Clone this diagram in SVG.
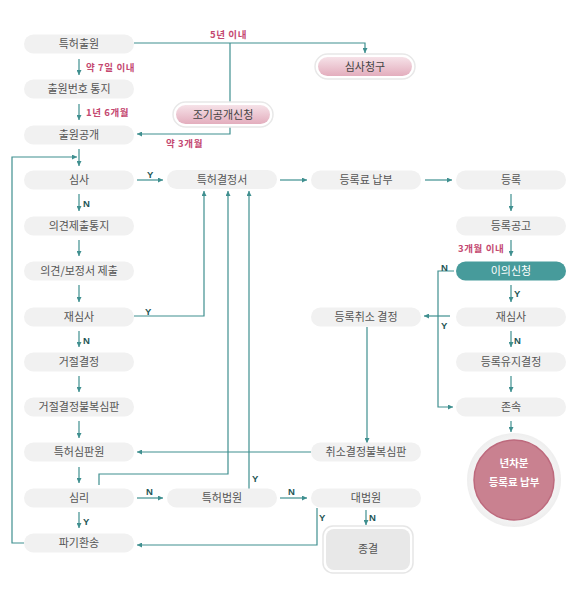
<svg xmlns="http://www.w3.org/2000/svg" width="583" height="600" viewBox="0 0 583 600">
<defs>
<style>
.n rect{fill:#f1f1f1}
.n text{font-family:"Noto Sans CJK KR","Noto Sans",sans-serif;font-size:11px;fill:#555;text-anchor:middle}
.c path{fill:none;stroke:#3f8f8f;stroke-width:1.2}
.a{marker-end:url(#ah)}
.lp{font-family:"Noto Sans CJK KR","Noto Sans",sans-serif;font-size:9.5px;font-weight:bold;fill:#c44870;letter-spacing:0.6px}
.yn{font-family:"Liberation Sans",sans-serif;font-size:9.5px;font-weight:bold;fill:#1f5656}
</style>
<marker id="ah" markerWidth="5" markerHeight="5" refX="5" refY="2.5" orient="auto" markerUnits="userSpaceOnUse">
<path d="M0,0 L5,2.5 L0,5 z" fill="#3f8f8f"/>
</marker>
<linearGradient id="pk" x1="0" y1="0" x2="0" y2="1">
<stop offset="0" stop-color="#f6e2e8"/>
<stop offset="1" stop-color="#e3adbd"/>
</linearGradient>
<radialGradient id="ring" cx="0.5" cy="0.5" r="0.5">
<stop offset="0.8" stop-color="#f6f6f6"/>
<stop offset="1" stop-color="#eeeeee"/>
</radialGradient>
</defs>
<rect width="583" height="600" fill="#fff"/>

<g class="c">
<path class="a" d="M134,43 H365 V53"/>
<path d="M230,43 V102"/>
<path class="a" d="M230,127 V134 H137"/>
<path class="a" d="M79,59 V75"/>
<path class="a" d="M79,104 V120"/>
<path class="a" d="M79,149 V166"/>
<path class="a" d="M24,543 H12 V157 H77"/>
<path class="a" d="M137,180 H163"/>
<path class="a" d="M79,194 V211"/>
<path class="a" d="M79,240 V256"/>
<path class="a" d="M79,285 V302"/>
<path class="a" d="M79,331 V347"/>
<path class="a" d="M79,376 V392"/>
<path class="a" d="M79,421 V438"/>
<path class="a" d="M79,467 V483"/>
<path class="a" d="M79,512 V528"/>
<path class="a" d="M134,316 H204 V191"/>
<path class="a" d="M99,485 V474 H228 V191"/>
<path class="a" d="M249,489 V191"/>
<path class="a" d="M137,498 H163"/>
<path class="a" d="M280,498 H307"/>
<path class="a" d="M280,180 H307"/>
<path class="a" d="M425,180 H452"/>
<path class="a" d="M511,194 V211"/>
<path class="a" d="M511,240 V256"/>
<path class="a" d="M511,285 V302"/>
<path class="a" d="M511,331 V347"/>
<path class="a" d="M511,376 V392"/>
<path class="a" d="M511,421 V432"/>
<path class="a" d="M454,271 H438 V407 H453"/>
<path class="a" d="M450,316 H424"/>
<path class="a" d="M367,327 V443"/>
<path class="a" d="M311,452 H137"/>
<path class="a" d="M366,510 V525"/>
<path class="a" d="M317,508 V545 H137"/>
</g>

<g id="labels">
<text class="lp" x="210" y="38">5년 이내</text>
<text class="lp" x="86" y="71">약 7일 이내</text>
<text class="lp" x="86" y="116">1년 6개월</text>
<text class="lp" x="166" y="147">약 3개월</text>
<text class="lp" x="458" y="252">3개월 이내</text>
<text class="yn" x="147" y="178">Y</text>
<text class="yn" x="83" y="207">N</text>
<text class="yn" x="145" y="315">Y</text>
<text class="yn" x="83" y="344">N</text>
<text class="yn" x="83" y="525">Y</text>
<text class="yn" x="146" y="495">N</text>
<text class="yn" x="252" y="482">Y</text>
<text class="yn" x="288" y="495">N</text>
<text class="yn" x="319" y="521">Y</text>
<text class="yn" x="369" y="521">N</text>
<text class="yn" x="441" y="271">N</text>
<text class="yn" x="441" y="329">Y</text>
<text class="yn" x="514" y="297">Y</text>
<text class="yn" x="514" y="344">N</text>
</g>

<g id="n1" class="n"><rect x="24" y="34.5" width="110" height="19" rx="9.5"/><text x="79" y="48">특허출원</text></g>
<g id="n2" class="n"><rect x="24" y="79.5" width="110" height="19" rx="9.5"/><text x="79" y="93">출원번호 통지</text></g>
<g id="n3" class="n"><rect x="24" y="125.5" width="110" height="19" rx="9.5"/><text x="79" y="139">출원공개</text></g>
<g id="n4" class="n"><rect x="24" y="170.5" width="110" height="19" rx="9.5"/><text x="79" y="184">심사</text></g>
<g id="n5" class="n"><rect x="24" y="216.5" width="110" height="19" rx="9.5"/><text x="79" y="230">의견제출통지</text></g>
<g id="n6" class="n"><rect x="24" y="261.5" width="110" height="19" rx="9.5"/><text x="79" y="275">의견/보정서 제출</text></g>
<g id="n7" class="n"><rect x="24" y="307.5" width="110" height="19" rx="9.5"/><text x="79" y="321">재심사</text></g>
<g id="n8" class="n"><rect x="24" y="352.5" width="110" height="19" rx="9.5"/><text x="79" y="366">거절결정</text></g>
<g id="n9" class="n"><rect x="24" y="397.5" width="110" height="19" rx="9.5"/><text x="79" y="411">거절결정불복심판</text></g>
<g id="n10" class="n"><rect x="24" y="442.5" width="110" height="19" rx="9.5"/><text x="79" y="456">특허심판원</text></g>
<g id="n11" class="n"><rect x="24" y="488.5" width="110" height="19" rx="9.5"/><text x="79" y="502">심리</text></g>
<g id="n12" class="n"><rect x="24" y="533.5" width="110" height="19" rx="9.5"/><text x="79" y="547">파기환송</text></g>

<g id="n13" class="n"><rect x="167" y="170" width="110" height="19" rx="9.5"/><text x="222" y="183.5">특허결정서</text></g>
<g id="n14" class="n"><rect x="167" y="488.5" width="110" height="19" rx="9.5"/><text x="222" y="502">특허법원</text></g>

<g id="n15" class="n"><rect x="311" y="170.5" width="110" height="19" rx="9.5"/><text x="366" y="184">등록료 납부</text></g>
<g id="n16" class="n"><rect x="311" y="307.5" width="110" height="19" rx="9.5"/><text x="366" y="321">등록취소 결정</text></g>
<g id="n17" class="n"><rect x="311" y="442.5" width="110" height="19" rx="9.5"/><text x="366" y="456">취소결정불복심판</text></g>
<g id="n18" class="n"><rect x="311" y="488.5" width="110" height="19" rx="9.5"/><text x="366" y="502">대법원</text></g>

<g id="n19" class="n"><rect x="456" y="170.5" width="110" height="19" rx="9.5"/><text x="511" y="184">등록</text></g>
<g id="n20" class="n"><rect x="456" y="216.5" width="110" height="19" rx="9.5"/><text x="511" y="230">등록공고</text></g>
<g id="n21" class="n"><rect x="456" y="261.5" width="110" height="19" rx="9.5" style="fill:#479b9b"/><text x="511" y="275" style="fill:#fff">이의신청</text></g>
<g id="n22" class="n"><rect x="456" y="307.5" width="110" height="19" rx="9.5"/><text x="511" y="321">재심사</text></g>
<g id="n23" class="n"><rect x="456" y="352.5" width="110" height="19" rx="9.5"/><text x="511" y="366">등록유지결정</text></g>
<g id="n24" class="n"><rect x="456" y="397.5" width="110" height="19" rx="9.5"/><text x="511" y="411">존속</text></g>

<g id="n25" class="n">
<rect x="315" y="54" width="100" height="25" rx="12.5" style="fill:#fff;stroke:#e8e8e8;stroke-width:1.5"/>
<rect x="318" y="57" width="94" height="19" rx="9.5" style="fill:url(#pk)"/>
<text x="365" y="70.5" style="fill:#444">심사청구</text>
</g>
<g id="n26" class="n">
<rect x="173" y="102" width="100" height="25" rx="12.5" style="fill:#fff;stroke:#e8e8e8;stroke-width:1.5"/>
<rect x="176" y="105" width="94" height="19" rx="9.5" style="fill:url(#pk)"/>
<text x="223" y="118.5" style="fill:#444">조기공개신청</text>
</g>
<g id="n27" class="n">
<rect x="323" y="526" width="90" height="47" rx="10" style="fill:#fff;stroke:#e6e6e6;stroke-width:1.5"/>
<rect x="326" y="529" width="84" height="41" rx="8" style="fill:#e8e8e8"/>
<text x="368" y="553">종결</text>
</g>
<g id="n28" class="n">
<circle cx="514" cy="480" r="47" fill="url(#ring)"/>
<circle cx="514" cy="480" r="40" fill="#c98190" stroke="#bd6a7d" stroke-width="1.5"/>
<text x="514" y="467" style="fill:#fff;font-weight:bold;font-size:10.5px">년차분</text>
<text x="514" y="486" style="fill:#fff;font-weight:bold;font-size:10.5px">등록료 납부</text>
</g>
</svg>
